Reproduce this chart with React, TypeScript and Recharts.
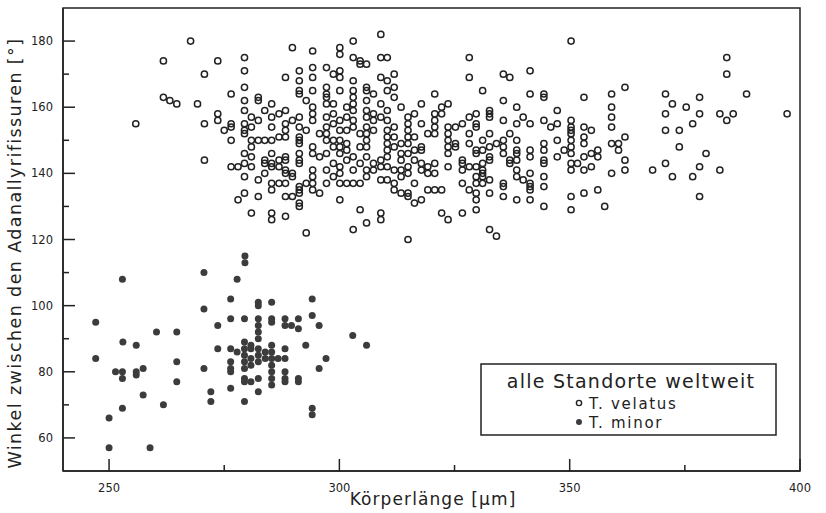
import React from "react";
import { ScatterChart, Scatter, XAxis, YAxis, ReferenceArea } from "recharts";

// Körperlänge [µm], Winkel [°] – T. velatus (open circles)
const VELATUS: [number, number][] = [
  [267.7, 180], [261.8, 174], [273.6, 174], [270.7, 170], [279.4, 175], [279.4, 171], [279.4, 166], [276.5, 164],
  [261.8, 163], [263.2, 162], [264.7, 161], [269.2, 161], [279.4, 162], [282.4, 163], [282.4, 162], [285.3, 161],
  [279.4, 159], [283.8, 159], [285.3, 157], [280.9, 157], [282.4, 156], [255.8, 155], [270.7, 155], [273.6, 158],
  [273.6, 156], [276.5, 155], [276.5, 154], [275.0, 153], [279.4, 155], [279.4, 153], [279.4, 152], [280.9, 154],
  [285.3, 154], [276.5, 150], [280.9, 150], [282.4, 150], [283.8, 150], [285.3, 150], [280.9, 148], [279.4, 146],
  [280.9, 145], [285.3, 146], [270.7, 144], [276.5, 142], [278.0, 142], [279.4, 143], [280.9, 142], [283.8, 144],
  [283.8, 143], [285.3, 143], [285.3, 142], [283.8, 140], [279.4, 139], [282.4, 138], [285.3, 137], [285.3, 135],
  [279.4, 134], [278.0, 132], [282.4, 133], [280.9, 128], [285.3, 128], [285.3, 126],
  [309.0, 182], [289.8, 178], [294.2, 177], [303.0, 180], [300.1, 178], [300.1, 176], [303.0, 175], [304.5, 174],
  [304.5, 173], [305.9, 173], [309.0, 175], [310.4, 175], [294.2, 172], [297.2, 172], [300.1, 171], [298.7, 170],
  [291.3, 171], [291.3, 168], [288.3, 169], [294.2, 169], [300.1, 169], [303.0, 168], [309.0, 169], [310.4, 168],
  [311.9, 170], [311.9, 166], [310.4, 165], [311.9, 163], [291.3, 165], [291.3, 164], [294.2, 165], [297.2, 166],
  [297.2, 164], [297.2, 163], [297.2, 161], [300.1, 165], [303.0, 165], [303.0, 163], [305.9, 166], [305.9, 165],
  [307.4, 164], [292.8, 162], [294.2, 160], [294.2, 158], [294.2, 156], [298.7, 161], [298.7, 158], [301.6, 160],
  [303.0, 161], [303.0, 159], [305.9, 162], [305.9, 159], [307.4, 158], [309.0, 161], [310.4, 159], [313.4, 160],
  [316.3, 158], [317.8, 161], [320.7, 164], [322.2, 160], [322.2, 158], [320.7, 158], [320.7, 156], [323.6, 161],
  [286.9, 158], [288.3, 159], [286.9, 151], [288.3, 155], [288.3, 153], [288.3, 151], [289.8, 156], [291.3, 157],
  [291.3, 154], [292.8, 153], [291.3, 151], [291.3, 150], [291.3, 149], [297.2, 157], [297.2, 154], [297.2, 152],
  [297.2, 150], [295.7, 152], [298.7, 155], [300.1, 156], [301.6, 157], [300.1, 153], [301.6, 153], [298.7, 150],
  [298.7, 148], [300.1, 150], [300.1, 148], [301.6, 149], [301.6, 147], [303.0, 156], [303.0, 154], [304.5, 152],
  [305.9, 157], [305.9, 154], [305.9, 152], [305.9, 150], [307.4, 156], [307.4, 153], [309.0, 157], [310.4, 156],
  [310.4, 153], [311.9, 154], [310.4, 151], [310.4, 149], [310.4, 147], [311.9, 151], [311.9, 148], [313.4, 149],
  [313.4, 146], [314.9, 157], [314.9, 155], [314.9, 153], [314.9, 151], [314.9, 149], [316.3, 151], [316.3, 147],
  [317.8, 155], [317.8, 148], [317.8, 147], [319.2, 152], [320.7, 154], [320.7, 152], [323.6, 154], [323.6, 152],
  [323.6, 150], [323.6, 148], [323.6, 146],
  [288.3, 145], [288.3, 144], [286.9, 144], [286.9, 142], [289.8, 140], [289.8, 139], [291.3, 146], [291.3, 144],
  [291.3, 143], [288.3, 141], [288.3, 140], [286.9, 137], [288.3, 137], [291.3, 136], [291.3, 135], [291.3, 134],
  [292.8, 137], [294.2, 148], [294.2, 146], [294.2, 141], [294.2, 139], [294.2, 137], [294.2, 135], [295.7, 145],
  [295.7, 134], [297.2, 146], [297.2, 141], [297.2, 137], [298.7, 143], [298.7, 139], [300.1, 146], [300.1, 142],
  [300.1, 140], [300.1, 137], [301.6, 144], [301.6, 137], [303.0, 145], [303.0, 141], [303.0, 137], [304.5, 148],
  [304.5, 143], [304.5, 137], [305.9, 148], [305.9, 145], [305.9, 141], [305.9, 139], [307.4, 143], [307.4, 141],
  [309.0, 144], [309.0, 142], [309.0, 138], [310.4, 145], [310.4, 142], [310.4, 138], [311.9, 141], [311.9, 137],
  [311.9, 135], [313.4, 144], [313.4, 141], [313.4, 139], [313.4, 134], [314.9, 146], [314.9, 142], [314.9, 140],
  [314.9, 134], [314.9, 133], [316.3, 144], [316.3, 137], [316.3, 131], [317.8, 143], [317.8, 141], [317.8, 132],
  [319.2, 142], [319.2, 140], [319.2, 135], [320.7, 143], [320.7, 140], [320.7, 135], [322.2, 135], [323.6, 142],
  [288.3, 133], [289.8, 133], [291.3, 131], [291.3, 130], [288.3, 127], [300.1, 132], [304.5, 129], [309.0, 128],
  [309.0, 126], [305.9, 125], [303.0, 123], [292.8, 122], [314.9, 120], [322.2, 128], [323.6, 126],
  [350.3, 180], [328.2, 175], [328.2, 169], [335.6, 170], [337.0, 169], [341.4, 171], [331.1, 165], [341.4, 164],
  [344.4, 164], [344.4, 163], [353.1, 163], [359.1, 164], [335.6, 162], [338.5, 160], [347.3, 159], [359.1, 160],
  [359.1, 157], [359.1, 154], [332.6, 159], [332.6, 158], [332.6, 157], [329.7, 158], [328.2, 157], [326.7, 155],
  [325.2, 154], [329.7, 155], [329.7, 154], [335.6, 156], [339.9, 157], [338.5, 155], [341.4, 155], [344.4, 156],
  [345.9, 154], [347.3, 155], [350.3, 156], [350.3, 154], [350.3, 153], [350.3, 152], [350.3, 150], [350.3, 148],
  [350.3, 146], [353.1, 154], [354.7, 153], [353.1, 151], [353.1, 149], [328.2, 152], [332.6, 152], [331.1, 150],
  [328.2, 149], [325.2, 149], [325.2, 148], [329.7, 147], [329.7, 146], [331.1, 147], [332.6, 148], [332.6, 145],
  [332.6, 144], [334.1, 149], [335.6, 150], [335.6, 148], [335.6, 146], [337.0, 152], [338.5, 150], [338.5, 147],
  [338.5, 146], [338.5, 144], [341.4, 147], [341.4, 145], [344.4, 149], [344.4, 147], [347.3, 150], [348.8, 147],
  [347.3, 145], [354.7, 146], [356.1, 147], [356.1, 145], [359.1, 149], [360.6, 149], [360.6, 147], [353.1, 145],
  [350.3, 143], [351.7, 143], [350.3, 141], [354.7, 142], [353.1, 141], [359.1, 140], [326.7, 144], [326.7, 143],
  [326.7, 141], [328.2, 142], [329.7, 142], [331.1, 143], [331.1, 141], [331.1, 140], [331.1, 139], [329.7, 139],
  [329.7, 137], [332.6, 138], [331.1, 137], [337.0, 144], [337.0, 143], [338.5, 141], [339.9, 138], [338.5, 139],
  [341.4, 140], [341.4, 137], [341.4, 136], [341.4, 135], [344.4, 144], [344.4, 143], [344.4, 139], [344.4, 136],
  [335.6, 137], [335.6, 136], [326.7, 137], [328.2, 135], [329.7, 134], [329.7, 132], [329.7, 129], [332.6, 134],
  [335.6, 133], [338.5, 132], [341.4, 132], [344.4, 130], [350.3, 133], [350.3, 129], [353.1, 134], [356.1, 135],
  [357.6, 130], [326.7, 128], [332.6, 123], [334.1, 121],
  [384.1, 175], [384.1, 170], [362.0, 166], [388.4, 164], [370.8, 164], [378.2, 163], [372.3, 161], [375.3, 160],
  [370.8, 158], [378.2, 158], [382.6, 158], [385.5, 158], [384.1, 156], [397.2, 158], [376.7, 155], [370.8, 153],
  [373.8, 153], [362.0, 151], [373.8, 148], [379.6, 146], [370.8, 143], [378.2, 142], [368.0, 141], [382.6, 141],
  [372.3, 139], [376.7, 139], [378.2, 133], [362.0, 144], [362.0, 141],
];

// T. minor (filled circles)
const MINOR: [number, number][] = [
  [252.9, 108], [247.1, 95], [247.1, 84], [253.0, 89], [255.9, 88], [251.4, 80], [252.9, 80], [252.9, 78],
  [255.9, 80], [255.9, 79], [257.4, 81], [260.3, 92], [264.7, 92], [264.7, 83], [264.7, 77], [257.4, 73],
  [252.9, 69], [261.8, 70], [250.0, 66], [250.0, 57], [258.9, 57], [270.6, 110], [270.6, 99], [270.6, 81],
  [272.1, 74], [272.1, 71], [273.6, 94], [273.6, 87], [276.4, 102], [276.4, 96], [276.4, 87], [277.8, 86],
  [276.4, 83], [276.4, 81], [276.4, 80], [276.4, 75], [277.8, 108],
  [279.5, 115], [279.5, 113], [282.4, 101], [282.4, 100], [285.3, 101], [294.1, 102], [294.1, 97], [295.6, 94],
  [302.9, 91], [305.9, 88], [279.4, 96], [282.4, 96], [282.4, 94], [282.4, 92], [282.4, 90], [285.3, 96],
  [285.3, 95], [288.2, 96], [288.2, 94], [289.6, 94], [291.1, 96], [291.1, 93], [292.7, 88], [297.1, 84],
  [295.6, 81], [279.4, 89], [279.4, 87], [280.8, 87], [280.8, 88], [282.4, 87], [282.4, 85], [283.9, 86],
  [283.9, 84], [279.4, 85], [279.4, 83], [280.8, 84], [279.4, 81], [280.8, 82], [282.4, 83], [285.3, 88],
  [285.3, 86], [285.3, 84], [285.3, 82], [285.3, 80], [285.3, 78], [285.3, 76], [286.7, 84], [288.2, 87],
  [288.2, 84], [288.2, 80], [288.2, 78], [288.2, 77], [291.1, 78], [291.1, 77], [279.4, 71], [282.4, 74],
  [279.4, 78], [279.4, 77], [280.8, 77], [282.4, 78], [294.1, 69], [294.1, 67],
];

const X_TICKS = [250, 275, 300, 325, 350, 375, 400];
const Y_TICKS = [60, 70, 80, 90, 100, 110, 120, 130, 140, 150, 160, 170, 180];

const FONT = "'DejaVu Sans', sans-serif";
const INK = "#222";

const velatusData = VELATUS.map(([x, y]) => ({ x, y }));
const minorData = MINOR.map(([x, y]) => ({ x, y }));

const OpenDot = (props: any) => (
  <circle cx={props.cx} cy={props.cy} r={3.1} fill="none" stroke={INK} strokeWidth={1.5} />
);
const FilledDot = (props: any) => (
  <circle cx={props.cx} cy={props.cy} r={3.5} fill="#3c3c3c" stroke="none" />
);

const XTick = (props: any) => {
  const { x, y, payload } = props;
  const major = payload.value % 50 === 0;
  return (
    <g>
      <line x1={x} x2={x} y1={y} y2={y - (major ? 12 : 6)} stroke={INK} strokeWidth={1.5} />
      {major && (
        <text x={x} y={y + 21} textAnchor="middle" fontFamily={FONT} fontSize={11.5} fill={INK}>
          {payload.value}
        </text>
      )}
    </g>
  );
};

const YTick = (props: any) => {
  const { x, y, payload } = props;
  const major = payload.value % 20 === 0;
  return (
    <g>
      <line x1={x} x2={x + (major ? 12 : 6)} y1={y} y2={y} stroke={INK} strokeWidth={1.5} />
      {major && (
        <text x={x - 10} y={y + 4} textAnchor="end" fontFamily={FONT} fontSize={11.5} fill={INK}>
          {payload.value}
        </text>
      )}
    </g>
  );
};

export default function App() {
  return (
    <div style={{ position: "absolute", left: 0, top: 0, width: 826, height: 513, background: "#fff" }}>
      <ScatterChart width={826} height={513} margin={{ top: 8, right: 26, bottom: 0, left: 3 }}>
        <XAxis
          type="number"
          dataKey="x"
          domain={[240, 400]}
          ticks={X_TICKS}
          interval={0}
          allowDataOverflow
          height={42}
          tickSize={0}
          tickMargin={0}
          tickLine={false}
          axisLine={{ stroke: INK, strokeWidth: 1.5 }}
          tick={XTick}
          label={() => (
            <text
              x={433}
              y={505}
              textAnchor="middle"
              fontFamily={FONT}
              fontSize={17}
              letterSpacing={1.1}
              fill={INK}
            >
              Körperlänge [µm]
            </text>
          )}
        />
        <YAxis
          type="number"
          dataKey="y"
          domain={[50, 190]}
          ticks={Y_TICKS}
          interval={0}
          allowDataOverflow
          width={60}
          tickSize={0}
          tickMargin={0}
          tickLine={false}
          axisLine={{ stroke: INK, strokeWidth: 1.5 }}
          tick={YTick}
          label={() => (
            <text
              transform="translate(21,253) rotate(-90)"
              textAnchor="middle"
              fontFamily={FONT}
              fontSize={17.5}
              letterSpacing={1.4}
              fill={INK}
            >
              Winkel zwischen den Adanallyrifissuren [°]
            </text>
          )}
        />
        <ReferenceArea x1={240} x2={400} y1={50} y2={190} fill="none" stroke={INK} strokeWidth={1.5} />
        <Scatter name="T. velatus" data={velatusData} shape={OpenDot} isAnimationActive={false} />
        <Scatter name="T. minor" data={minorData} shape={FilledDot} isAnimationActive={false} />
      </ScatterChart>
      <svg
        width={297}
        height={73}
        style={{ position: "absolute", left: 480, top: 363 }}
      >
        <rect x={1} y={1} width={295} height={71} fill="#fff" stroke={INK} strokeWidth={1.5} />
        <text
          x={151}
          y={25}
          textAnchor="middle"
          fontFamily={FONT}
          fontSize={19}
          letterSpacing={1.25}
          fill={INK}
        >
          alle Standorte weltweit
        </text>
        <circle cx={99} cy={40} r={2.6} fill="none" stroke={INK} strokeWidth={1.4} />
        <text x={109} y={46} fontFamily={FONT} fontSize={15} letterSpacing={1.7} fill={INK}>
          T. velatus
        </text>
        <circle cx={99} cy={59} r={3} fill="#3c3c3c" />
        <text x={109} y={65} fontFamily={FONT} fontSize={15} letterSpacing={1.7} fill={INK}>
          T. minor
        </text>
      </svg>
    </div>
  );
}
